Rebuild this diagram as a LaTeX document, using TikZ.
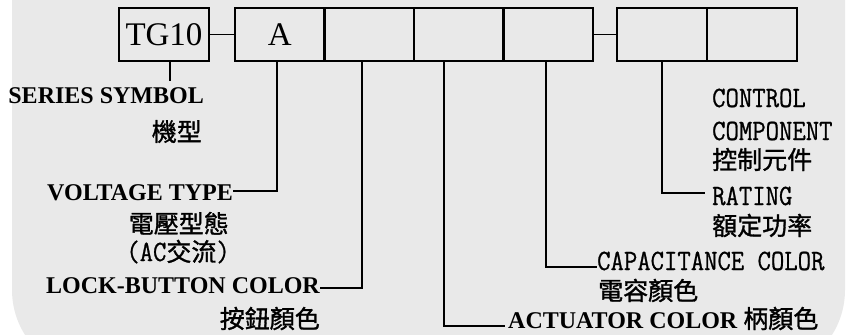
\documentclass[tikz,border=0pt]{standalone}
\usepackage{fontspec}
\setmainfont{Liberation Serif}
\newfontfamily\cjk[FakeBold=1.2]{Noto Sans CJK TC}
\newfontfamily\narrowmono[FakeStretch=0.88, FakeBold=0.8]{Latin Modern Mono}
\usetikzlibrary{positioning}
\definecolor{panel}{HTML}{E9E9E9}
\tikzset{
    cell/.style={draw, line width=2.3pt, minimum width=89.5pt, minimum height=53pt, inner sep=0pt, outer sep=0pt, font=\fontsize{33}{33}\selectfont},
    lead/.style={line width=1.9pt},
    boldlab/.style={inner sep=0pt, font=\bfseries\fontsize{24}{24}\selectfont},
    monolab/.style={inner sep=0pt, font=\narrowmono\fontsize{29.5}{29.5}\selectfont},
    cjklab/.style={inner sep=0pt, font=\cjk\fontsize{25}{25}\selectfont}
}

\begin{document}
\begin{tikzpicture}[x=1pt, y=-1pt]
    \useasboundingbox (0,0) rectangle (855,335);
    % grey panel
    \begin{scope}
        \clip (0,0) rectangle (855,335);
        \fill[panel, rounded corners=84pt] (12,-200) rectangle (845,374);
    \end{scope}

    % code boxes
    \node[cell, minimum width=90pt] (tg) at (164,34.5) {TG10};
    \node[cell, right=26pt of tg] (type) {A};
    \node[cell, right=0pt of type] (lock) {};
    \node[cell, right=0pt of lock] (act) {};
    \node[cell, right=0pt of act] (cap) {};
    \node[cell, minimum width=90pt, right=24pt of cap] (rate) {};
    \node[cell, minimum width=90pt, right=0pt of rate] (ctrl) {};

    % left labels
    \node[boldlab, anchor=base east] (serlab) at (204,103) {SERIES SYMBOL};
    \node[cjklab, anchor=base east] (serzh) at (202,141) {機型};
    \node[boldlab, anchor=base east] (typelab) at (233,200) {VOLTAGE TYPE};
    \node[cjklab, anchor=base east] (typezh) at (229,233) {電壓型態};
    \node[monolab, anchor=base east] (typeac) at (230,261) {(AC{\cjk\fontsize{25}{25}\selectfont 交流})};
    \node[boldlab, anchor=base east] (locklab) at (320,293) {LOCK-BUTTON COLOR};
    \node[cjklab, anchor=base east] (lockzh) at (320,328) {按鈕顏色};

    % right labels
    \node[monolab, anchor=base west] (ctrllab) at (712,107) {CONTROL};
    \node[monolab, anchor=base west] (ctrllab2) at (712,140) {COMPONENT};
    \node[cjklab, anchor=base west] (ctrlzh) at (712,169) {控制元件};
    \node[monolab, anchor=base west] (ratelab) at (712,205) {RATING};
    \node[cjklab, anchor=base west] (ratezh) at (712,235) {額定功率};
    \node[monolab, anchor=base west] (caplab) at (597,270) {CAPACITANCE COLOR};
    \node[cjklab, anchor=base west] (capzh) at (598,300) {電容顏色};
    \node[boldlab, anchor=base west] (actlab) at (508,328) {ACTUATOR COLOR {\cjk\mdseries\fontsize{25}{25}\selectfont 柄顏色}};

    % leads
    \draw[lead] (tg) -- (type);
    \draw[lead] (cap) -- (rate);
    \draw[lead] ([xshift=6pt]tg.south) -- ([xshift=6pt, yshift=6pt]tg.south |- serlab.north);
    \draw[lead] ([xshift=-3pt]type.south) |- ([yshift=9pt]typelab.base east);
    \draw[lead] ([xshift=-7pt]lock.south) |- ([yshift=5pt]locklab.base east);
    \draw[lead] ([xshift=-15pt]act.south) |- ([xshift=-3pt, yshift=2pt]actlab.base west);
    \draw[lead] ([xshift=-2pt]cap.south) |- ([yshift=3pt]caplab.base west);
    \draw[lead] (rate.south) |- ([xshift=-7pt, yshift=12pt]ratelab.base west);
\end{tikzpicture}
\end{document}
